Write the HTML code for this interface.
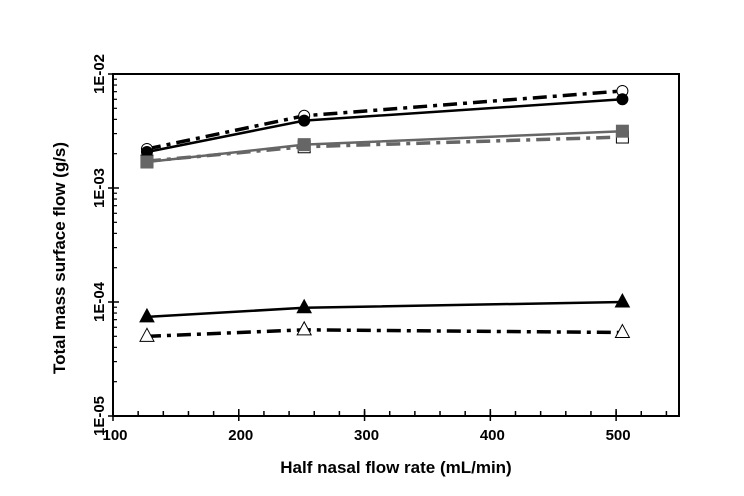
<!DOCTYPE html>
<html><head><meta charset="utf-8"><style>
body{margin:0;background:#fff;}
svg{display:block;font-family:"Liberation Sans",Arial,sans-serif;font-weight:bold;}
</style></head><body>
<svg id="chart" width="744" height="496" viewBox="0 0 744 496" xmlns="http://www.w3.org/2000/svg">
<rect x="0" y="0" width="744" height="496" fill="#fff"/>
<g id="axes"></g>
<g id="series"></g>
<text x="396" y="473" text-anchor="middle" font-size="17">Half nasal flow rate (mL/min)</text>
<text transform="translate(65,258) rotate(-90)" text-anchor="middle" font-size="17">Total mass surface flow (g/s)</text>
</svg>
<script>
const xVals = [127, 252, 505];
const filledCircle = [2.07e-3, 3.9e-3, 6.0e-3];
const openCircle = [2.2e-3, 4.3e-3, 7.1e-3];
const filledSquare = [1.69e-3, 2.4e-3, 3.15e-3];
const openSquare = [1.72e-3, 2.3e-3, 2.8e-3];
const filledTriangle = [7.4e-5, 8.9e-5, 1.0e-4];
const openTriangle = [5.0e-5, 5.7e-5, 5.4e-5];
const xTicks = [100, 200, 300, 400, 500];
const yTicks = ["1E-05", "1E-04", "1E-03", "1E-02"];

const NS = "http://www.w3.org/2000/svg";
const L = 113, R = 679, T = 74, B = 416;
function xs(v){ return L + (v - 100) * (R - L) / 450; }
function ys(v){ return T + (-2 - Math.log10(v)) * (B - T) / 3; }
function mk(tag, attrs, parent){
  const e = document.createElementNS(NS, tag);
  for (const k in attrs) e.setAttribute(k, attrs[k]);
  parent.appendChild(e); return e;
}
const ax = document.getElementById('axes');
const frame = mk('rect', {x:L, y:T, width:R-L, height:B-T, fill:'none', stroke:'#000', 'stroke-width':2}, ax);


for (let v = 100; v <= 550; v += 20) {
  const t = mk('line', {x1:xs(v), x2:xs(v), y1:B, y2:B-5, stroke:'#000', 'stroke-width':1.5}, ax);
  
  
}
xTicks.forEach(v => {
  const t = mk('line', {x1:xs(v), x2:xs(v), y1:B+5, y2:B-7, stroke:'#000', 'stroke-width':1.5}, ax);
  
  
  const tx = mk('text', {x:xs(v)+2, y:B+24, 'text-anchor':'middle', 'font-size':15}, ax);
  tx.textContent = v;
  
  
});
yTicks.forEach((lab, i) => {
  const v = Math.pow(10, -5 + i);
  const y = ys(v);
  const t = mk('line', {x1:L-5, x2:L+6, y1:y, y2:y, stroke:'#000', 'stroke-width':1.5}, ax);
  
  
  const tx = mk('text', {transform:`translate(${L-9},${y}) rotate(-90)`, 'text-anchor':'middle', 'font-size':15}, ax);
  tx.textContent = lab;
  
  
  if (i < 3) for (let m = 2; m <= 9; m++) {
    const yy = ys(v * m);
    const mt = mk('line', {x1:L, x2:L+4, y1:yy, y2:yy, stroke:'#000', 'stroke-width':1.2}, ax);
    
    
  }
});
const sg = document.getElementById('series');
const DD = '14,6,4,6';
const defs = [
  {d:openCircle, color:'#000', dash:DD, m:'circle', fill:'#fff', name:'open-circle'},
  {d:filledCircle, color:'#000', dash:null, m:'circle', fill:'#000', name:'filled-circle'},
  {d:openSquare, color:'#666', dash:DD, m:'square', fill:'#fff', name:'open-square'},
  {d:filledSquare, color:'#666', dash:null, m:'square', fill:'#666', name:'filled-square'},
  {d:filledTriangle, color:'#000', dash:null, m:'tri', fill:'#000', name:'filled-triangle'},
  {d:openTriangle, color:'#000', dash:DD, m:'tri', fill:'#fff', name:'open-triangle'}
];
defs.forEach(s => {
  const pts = s.d.map((v, i) => xs(xVals[i]) + ',' + ys(v)).join(' ');
  const pl = mk('polyline', {points:pts, fill:'none', stroke:s.color, 'stroke-width':s.dash?3.5:2.5}, sg);
  if (s.dash) pl.setAttribute('stroke-dasharray', s.dash);
  
  
  s.d.forEach((v, i) => {
    const x = xs(xVals[i]), y = ys(v);
    let e;
    const stroke = s.fill === '#fff' ? '#000' : s.fill;
    if (s.m === 'circle') e = mk('circle', {cx:x, cy:y, r:5.5, fill:s.fill, stroke:stroke, 'stroke-width':1}, sg);
    else if (s.m === 'square') e = mk('rect', {x:x-6, y:y-6, width:12, height:12, fill:s.fill, stroke:stroke, 'stroke-width':1}, sg);
    else e = mk('polygon', {points:`${x},${y-8} ${x-7},${y+5} ${x+7},${y+5}`, fill:s.fill, stroke:stroke, 'stroke-width':1}, sg);
    
    
  });
});
</script>
</body></html>
